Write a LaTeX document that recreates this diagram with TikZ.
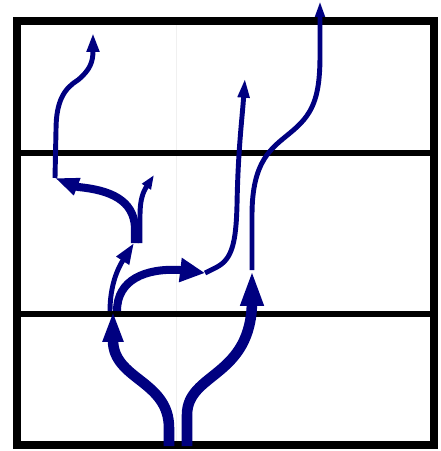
\documentclass[tikz,border=0pt]{standalone}
\usepackage{tikz}
\usetikzlibrary{arrows.meta}
\definecolor{flowblue}{RGB}{0, 0, 128}

\begin{document}
\begin{tikzpicture}[x=0.025cm, y=-0.025cm,
    frameline/.style={line width=5.7pt, black},
    divider/.style={line width=4.3pt, black},
    thickflow/.style={line width=7.5pt, flowblue},
    midflow/.style={line width=5.7pt, flowblue},
    thinflow/.style={line width=3.5pt, flowblue}]
    \useasboundingbox (0,0) rectangle (440,451);

    % Faint page seam
    \draw[black!6, line width=0.5pt] (176,21) -- (176,445);

    % Frame and dividers
    \draw[frameline] (17,21) rectangle (434,445);
    \draw[divider] (17,153) -- (434,153);
    \draw[divider] (17,314) -- (434,314);

    % Junctions
    \coordinate (fork) at (113,311);
    \coordinate (midtip) at (205,273);
    \coordinate (righttip) at (252,270);
    \coordinate (uptip) at (134,243);
    \coordinate (lefttip) at (55,178);

    % Left trunk
    \draw[thickflow, -{Triangle[length=22pt, width=13.5pt]}]
        (169,446) -- (169,428) .. controls (169,380) and (113,380) .. (fork);

    % Right trunk
    \draw[thickflow, -{Triangle[length=25.5pt, width=15pt]}]
        (187,446) -- (187,415) .. controls (187,372) and (252,378) .. (252,300) -- (righttip);

    % Right trunk, thin continuation out of the top
    \draw[thinflow, -{Triangle[length=11.3pt, width=6.4pt]}]
        (righttip) -- (252,215) .. controls (252,160) and (272,148) .. (290,133)
        .. controls (312,115) and (320,100) .. (320,55) -- (320,1);

    % Branch to the right
    \draw[midflow, -{Triangle[length=17.7pt, width=16.3pt]}]
        (117,311) .. controls (117,280) and (145,268) .. (180,270) -- (midtip);
    \draw[thinflow, -{Triangle[length=14pt, width=7.8pt]}]
        (midtip) -- (217,267) .. controls (232,259) and (236,243) .. (237,205)
        .. controls (238,150) and (242,120) .. (245,78);

    % Branch upwards
    \draw[thinflow, -{Triangle[length=15pt, width=10pt]}]
        (110,311) .. controls (110,285) and (118,268) .. (uptip);

    % Left turn and its thin continuation
    \draw[midflow, -{Triangle[length=17pt, width=12pt]}]
        (135,243) -- (135,228) .. controls (134,200) and (110,190) .. (78,187) -- (lefttip);
    \draw[thinflow, -{Triangle[length=13.5pt, width=8.5pt]}]
        (lefttip) -- (56,130) .. controls (56,100) and (65,88) .. (78,80)
        .. controls (90,70) and (93,62) .. (93,33);

    % Small branch up-right
    \draw[thinflow, -{Triangle[length=10pt, width=7pt]}]
        (140,243) -- (140,215) .. controls (140,200) and (143,192) .. (154,175);
\end{tikzpicture}
\end{document}
